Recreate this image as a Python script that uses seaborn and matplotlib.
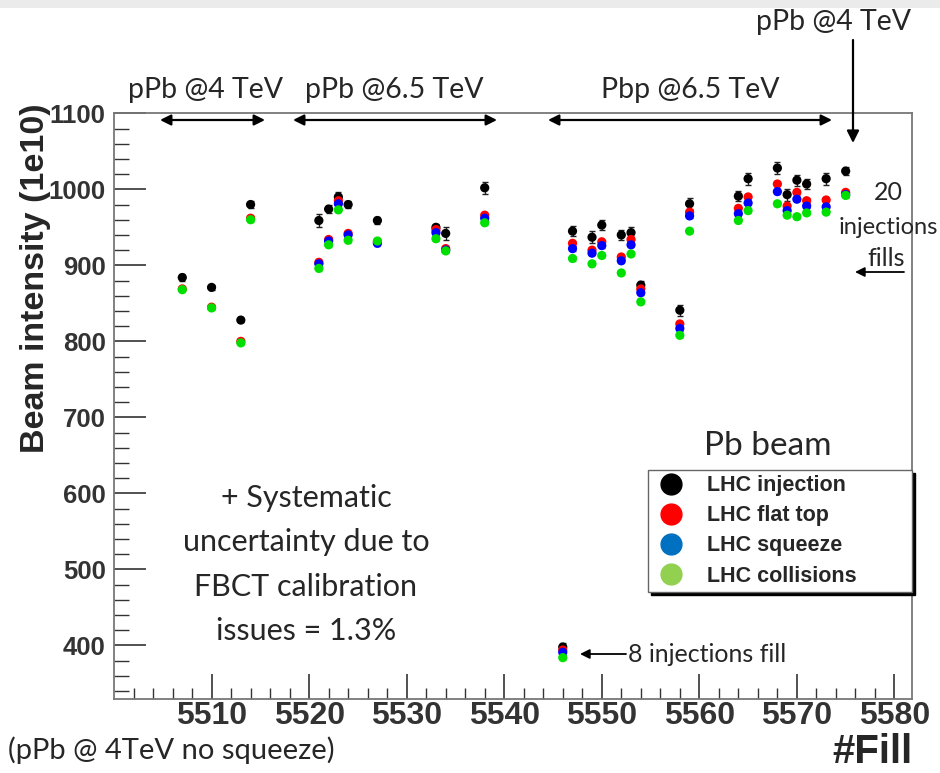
import numpy as np
import pandas as pd
import matplotlib
matplotlib.use("Agg")
import matplotlib.pyplot as plt
from matplotlib.lines import Line2D
from matplotlib.patches import Rectangle
import seaborn as sns

# ---------------- data ----------------
fills = [5507, 5510, 5513, 5514,
         5521, 5522, 5523, 5524, 5527, 5533, 5534, 5538,
         5546, 5547, 5549, 5550, 5552, 5553, 5554, 5558, 5559,
         5564, 5565, 5568, 5569, 5570, 5571, 5573, 5575]
injection = [884, 871, 828, 980,
             959, 974, 990, 980, 959, 950, 942, 1002,
             398, 945, 937, 953, 940, 943, 874, 841, 981,
             991, 1014, 1028, 993, 1012, 1007, 1014, 1024]
flat_top = [869, 845, 800, 962,
            904, 934, 985, 942, 931, 947, 922, 966,
            394, 929, 920, 931, 911, 934, 869, 823, 970,
            975, 990, 1007, 978, 996, 985, 986, 996]
squeeze = [np.nan, np.nan, np.nan, np.nan,
           902, 932, 981, 940, 929, 943, 920, 962,
           391, 922, 916, 926, 906, 927, 864, 817, 965,
           968, 982, 997, 972, 987, 978, 977, 993]
collisions = [868, 844, 798, 960,
              896, 927, 973, 933, 932, 935, 919, 956,
              384, 909, 902, 913, 890, 915, 852, 808, 945,
              959, 972, 981, 966, 964, 969, 970, 992]
injection_err = [4, 3, 3, 4,
                 8, 5, 6, 5, 5, 5, 8, 8,
                 5, 7, 8, 7, 7, 7, 6, 7, 7,
                 7, 8, 8, 8, 7, 7, 8, 5]
stage_err = 3

series_names = ["LHC injection", "LHC flat top", "LHC squeeze", "LHC collisions"]
series_values = [injection, flat_top, squeeze, collisions]
marker_colors = ["#000000", "#ff0000", "#0000ff", "#00e000"]
legend_colors = ["#000000", "#ff0000", "#0070c0", "#92d050"]

x_ticks = [5510, 5520, 5530, 5540, 5550, 5560, 5570, 5580]
y_ticks = [400, 500, 600, 700, 800, 900, 1000, 1100]

rows = []
for name, vals in zip(series_names, series_values):
    for f, v in zip(fills, vals):
        rows.append({"fill": f, "intensity": v, "stage": name})
df = pd.DataFrame(rows)

# ---------------- figure ----------------
sns.set_theme(style="white")
plt.rcParams["font.family"] = ["Lato", "DejaVu Sans"]

W, H = 940, 773
fig = plt.figure(figsize=(W / 100, H / 100), dpi=100)
ax = fig.add_axes([114 / W, 1 - 698.7 / H, (912 - 114) / W, (698.7 - 113.3) / H])


def fp(x, y):
    return (x / W, 1 - y / H)


ARIAL = ["Liberation Sans", "DejaVu Sans"]

# top grey strip
fig.patches.append(Rectangle((0, 1 - 8 / H), 1, 8 / H, transform=fig.transFigure,
                             facecolor="#ebebeb", edgecolor="none", zorder=0))

# error bars
for name, vals, col in zip(series_names, series_values, marker_colors):
    is_inj = name == "LHC injection"
    ax.errorbar(fills, vals, yerr=injection_err if is_inj else stage_err, fmt="none",
                ecolor="#222222" if is_inj else col, elinewidth=1.0, capsize=2,
                capthick=1.0, alpha=1 if is_inj else 0.8, zorder=2)

sns.scatterplot(data=df, x="fill", y="intensity", hue="stage", hue_order=series_names,
                palette=dict(zip(series_names, marker_colors)), s=44, linewidth=0,
                legend=False, ax=ax, zorder=3)

ax.set_xlim(5500, 5581.8)
ax.set_ylim(330, 1100)
ax.set_xticks(x_ticks)
ax.set_yticks(y_ticks)
ax.set_xticks(np.arange(5502, 5582, 2), minor=True)
ax.set_yticks(np.arange(340, 1100, 20), minor=True)
ax.set_xlabel("")
ax.set_ylabel("")
ax.tick_params(axis="both", which="both", direction="in", colors="#333333",
               top=False, right=False, left=True, bottom=True)
ax.tick_params(axis="x", which="major", length=18, width=1.2, pad=2)
ax.tick_params(axis="x", which="minor", length=8, width=1.0)
ax.tick_params(axis="y", which="major", length=23, width=1.2, pad=6)
ax.tick_params(axis="y", which="minor", length=11, width=1.0)
for lab in ax.get_xticklabels():
    lab.set_fontfamily(ARIAL)
    lab.set_fontweight("bold")
    lab.set_fontsize(23)
for lab in ax.get_yticklabels():
    lab.set_fontfamily(ARIAL)
    lab.set_fontweight("bold")
    lab.set_fontsize(18.5)
for sp in ax.spines.values():
    sp.set_color("#777777")
    sp.set_linewidth(1.3)

# legend
handles = [Line2D([0], [0], marker="o", linestyle="none", markersize=15,
                  markerfacecolor=c, markeredgecolor=c, label=n)
           for n, c in zip(series_names, legend_colors)]
leg = ax.legend(handles=handles, loc="upper left",
                bbox_to_anchor=((648 - 114) / 798, 1 - (593 - 113.3) / 585.4,
                                (912 - 648) / 798, 123 / 585.4),
                mode="expand", frameon=True, fancybox=False,
                shadow={"color": "black", "alpha": 1},
                prop={"family": ARIAL, "weight": "bold", "size": 15.5},
                labelspacing=0.42, handletextpad=0.9, borderpad=0.25, handlelength=1.6,
                borderaxespad=0)
leg.get_frame().set_edgecolor("#666666")
leg.get_frame().set_linewidth(1.0)

# axis titles
fig.text(*fp(36, 278), "Beam intensity (1e10)", rotation=90, ha="center", va="center",
         fontsize=24.5, fontweight="bold", family=ARIAL)
fig.text(*fp(913, 752), "#Fill", ha="right", va="center", fontsize=29, fontweight="bold",
         family=ARIAL)
fig.text(*fp(8, 750), "(pPb @ 4TeV no squeeze)", ha="left", va="center", fontsize=21)

# period labels and arrows
period_labels = [("pPb @4 TeV", 205, 160, 265), ("pPb @6.5 TeV", 394, 293, 497),
                 ("Pbp @6.5 TeV", 690, 548, 832)]
for txt, cx, x0, x1 in period_labels:
    fig.text(*fp(cx, 90), txt, ha="center", va="center", fontsize=20.5)
    ax.annotate("", xy=fp(x0, 120), xytext=fp(x1, 120), xycoords="figure fraction",
                textcoords="figure fraction",
                arrowprops=dict(arrowstyle="<|-|>", color="black", lw=1.6, mutation_scale=16,
                                shrinkA=0, shrinkB=0), annotation_clip=False)

fig.text(*fp(833, 22), "pPb @4 TeV", ha="center", va="center", fontsize=20.5)
ax.annotate("", xy=fp(853, 143), xytext=fp(853, 40), xycoords="figure fraction",
            textcoords="figure fraction",
            arrowprops=dict(arrowstyle="-|>", color="black", lw=1.6, mutation_scale=18,
                            shrinkA=0, shrinkB=0), annotation_clip=False)

fig.text(*fp(888, 192), "20", ha="center", va="center", fontsize=18)
fig.text(*fp(938, 227), "injections", ha="right", va="center", fontsize=17)
fig.text(*fp(886, 259), "fills", ha="center", va="center", fontsize=18)
ax.annotate("", xy=fp(855, 272), xytext=fp(904, 272), xycoords="figure fraction",
            textcoords="figure fraction",
            arrowprops=dict(arrowstyle="-|>", color="black", lw=1.3, mutation_scale=14,
                            shrinkA=0, shrinkB=0), annotation_clip=False)

fig.text(*fp(628, 655), "8 injections fill", ha="left", va="center", fontsize=18)
ax.annotate("", xy=fp(580, 654), xytext=fp(626, 654), xycoords="figure fraction",
            textcoords="figure fraction",
            arrowprops=dict(arrowstyle="-|>", color="black", lw=1.3, mutation_scale=14,
                            shrinkA=0, shrinkB=0), annotation_clip=False)

fig.text(*fp(768, 446), "Pb beam", ha="center", va="center", fontsize=24)

syst_lines = ["+ Systematic", "uncertainty due to", "FBCT calibration", "issues = 1.3%"]
for i, line in enumerate(syst_lines):
    fig.text(*fp(306, 498 + 44.5 * i), line, ha="center", va="center", fontsize=22)

fig.savefig("out.png", dpi=100)
